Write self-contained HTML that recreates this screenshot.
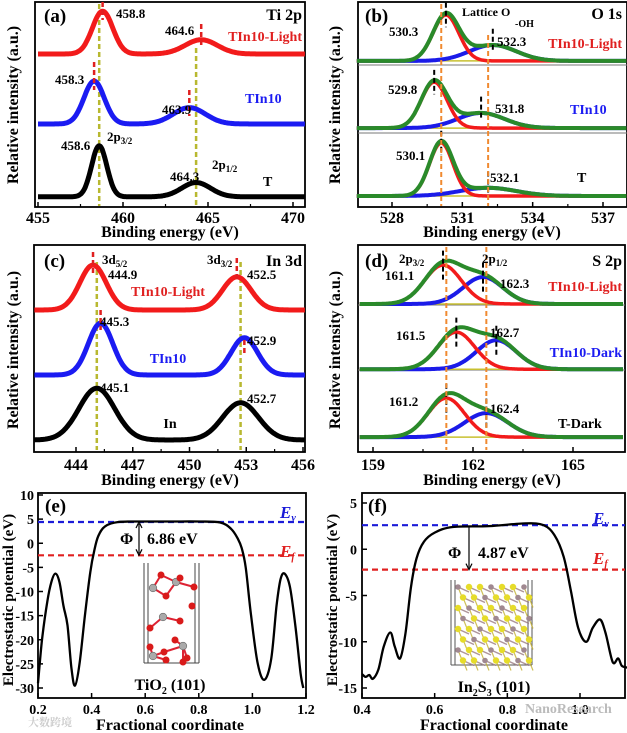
<!DOCTYPE html>
<html><head><meta charset="utf-8"><style>
body{margin:0;background:#fff}
svg{display:block;font-family:"Liberation Serif","Noto Serif CJK SC",serif;font-weight:bold}
</style></head><body>
<svg id="fig" width="627" height="733" viewBox="0 0 627 733"></svg>
<script>
// ---------- data ----------
const aTicks=[455,460,465,470];
const aRedC=[458.8,464.6], aRedH=[21,7], aRedW=[0.6,0.95], aRedBase=75;
const aBlueC=[458.3,463.9], aBlueH=[21,8], aBlueW=[0.6,0.95], aBlueBase=40.7;
const aBlkC=[458.6,464.3], aBlkH=[25,7], aBlkW=[0.45,0.85], aBlkBase=5;
const bTicks=[528,531,534,537];
const bBase=[71.6,38.7,5.4];
const bLatC=[530.3,529.8,530.1], bLatH=[22.5,22.5,26], bLatW=[0.55,0.55,0.5];
const bOhC=[532.3,531.8,532.1], bOhH=[7.8,7.4,4], bOhW=[1.0,1.0,1.2];
const cTicks=[444,447,450,453,456];
const cRedC=[444.9,452.5], cRedH=[21.7,16], cRedW=[0.7,0.75], cRedBase=68.6;
const cBlueC=[445.3,452.9], cBlueH=[25,18], cBlueW=[0.65,0.7], cBlueBase=37.2;
const cBlkC=[445.1,452.7], cBlkH=[25,18], cBlkW=[0.95,0.95], cBlkBase=5.8;
const dTicks=[159,162,165];
const dBase=[71.5,40,7.2];
const dP32C=[161.1,161.5,161.2], dP32H=[18.8,17.9,18.8], dP32W=[0.55,0.55,0.55];
const dP12C=[162.3,162.7,162.4], dP12H=[13,14,11.6], dP12W=[0.6,0.6,0.65];
const eTicksX=[0.2,0.4,0.6,0.8,1.0,1.2], eTicksY=[10,5,0,-5,-10,-15,-20,-25,-30];
const eX=[0.2,0.215,0.235,0.25,0.265,0.28,0.295,0.31,0.325,0.338,0.355,0.375,0.395,0.41,0.425,0.45,0.5,0.6,0.7,0.8,0.88,0.92,0.945,0.96,0.975,0.995,1.02,1.045,1.07,1.09,1.105,1.12,1.14,1.16,1.18,1.19];
const eY=[-29,-20,-12,-8,-6.3,-8,-13,-17,-26,-29.5,-25,-15,-6,-1.5,1.5,3.5,4.4,4.5,4.5,4.5,4.3,3,1,-1,-5,-15,-25,-28.3,-24,-13,-7.5,-6.3,-9,-17,-27,-30];
const eEv=4.4, eEf=-2.5;
const fTicksX=[0.4,0.6,0.8,1.0], fTicksY=[5,0,-5,-10,-15];
const fX=[0.4,0.41,0.42,0.43,0.445,0.46,0.478,0.49,0.505,0.52,0.535,0.55,0.57,0.6,0.65,0.75,0.85,0.9,0.93,0.955,0.975,0.995,1.017,1.035,1.055,1.07,1.09,1.105,1.115,1.13];
const fY=[-13.5,-13.8,-13.6,-14,-13,-10.5,-9,-10.5,-11.8,-9,-4,-1,0.8,1.8,2.4,2.5,2.8,2.6,1.5,-0.8,-4.5,-8.5,-10,-8.5,-7.6,-9,-12.2,-11.8,-12.6,-12.8];
const fEv=2.6, fEf=-2.2;

// ---------- helpers ----------
const NS='http://www.w3.org/2000/svg', svg=document.getElementById('fig');
function mk(tag,at,parent){const e=document.createElementNS(NS,tag);for(const k in at)e.setAttribute(k,at[k]);(parent||svg).appendChild(e);return e;}
function txt(s,x,y,o){o=o||{};const t=mk('text',{x:x,y:y,'font-size':o.size||13,fill:o.color||'#000','text-anchor':o.anchor||'start'});
 if(o.rot)t.setAttribute('transform','rotate(-90 '+x+' '+y+')');t.innerHTML=s;
 
 return t;}
function lin(a,b,c,d){return v=>c+(v-a)*(d-c)/(b-a);}
function gauss(v,C,H,W){let s=0;for(let i=0;i<C.length;i++)s+=H[i]*Math.exp(-(v-C[i])*(v-C[i])/(2*W[i]*W[i]));return s;}
function spec(xs,ys,v0,v1,base,C,H,W,color,w,name){let d='';for(let i=0;i<=300;i++){const v=v0+(v1-v0)*i/300;d+=(i?'L':'M')+xs(v).toFixed(1)+','+ys(base+gauss(v,C,H,W)).toFixed(1);}
 const p=mk('path',{d:d,fill:'none',stroke:color,'stroke-width':w,'stroke-linejoin':'round'});
 
 return p;}
function smooth(xs,ys,X,Y,name){let d='M'+xs(X[0])+','+ys(Y[0]);const P=X.map((x,i)=>[xs(x),ys(Y[i])]);
 for(let i=0;i<P.length-1;i++){const p0=P[Math.max(0,i-1)],p1=P[i],p2=P[i+1],p3=P[Math.min(P.length-1,i+2)];
  d+='C'+(p1[0]+(p2[0]-p0[0])/6).toFixed(1)+','+(p1[1]+(p2[1]-p0[1])/6).toFixed(1)+' '+(p2[0]-(p3[0]-p1[0])/6).toFixed(1)+','+(p2[1]-(p3[1]-p1[1])/6).toFixed(1)+' '+p2[0].toFixed(1)+','+p2[1].toFixed(1);}
 const p=mk('path',{d:d,fill:'none',stroke:'#000','stroke-width':2.3});
 
 }
function frame(x0,y0,x1,y1,name){const r=mk('rect',{x:x0,y:y0,width:x1-x0,height:y1-y0,fill:'none',stroke:'#000','stroke-width':1.8});
 
 }
function xticks(xs,ticks,y1,ly,minor){ticks.forEach(t=>{mk('line',{x1:xs(t),x2:xs(t),y1:y1,y2:y1-5,stroke:'#000','stroke-width':1.5});txt(String(t),xs(t),ly,{size:16,anchor:'middle',name:'x-tick-label'});});
 if(minor)for(let i=0;i<ticks.length-1;i++){const m=(ticks[i]+ticks[i+1])/2;mk('line',{x1:xs(m),x2:xs(m),y1:y1,y2:y1-3,stroke:'#000','stroke-width':1.2});}}
function vdash(x,y0,y1,color,w){mk('line',{x1:x,x2:x,y1:y0,y2:y1,stroke:color,'stroke-width':w||2.5,'stroke-dasharray':'5,3'});}
const OL='#b8b830', OR='#f08a30';
const SUB='<tspan font-size="9" dy="3">';

// ---------- (a) ----------
{const xs=lin(455,470,38,293), ys=lin(0,100,207,3);
 frame(35,2,305,207,'panel-a-frame');
 vdash(xs(458.6),4,206,OL,2.5);vdash(xs(464.3),48,206,OL,2.5);
 spec(xs,ys,455,470.7,aRedBase,aRedC,aRedH,aRedW,'#f21b1b',5,'series-tin10-light');
 spec(xs,ys,455,470.7,aBlueBase,aBlueC,aBlueH,aBlueW,'#1b1bf2',5,'series-tin10');
 spec(xs,ys,455,470.7,aBlkBase,aBlkC,aBlkH,aBlkW,'#000',5,'series-t');
 vdash(xs(458.8),2,20,'#e02020',2.5);vdash(xs(464.6),24,46,'#e02020',2.5);
 vdash(xs(458.3),62,90,'#e02020',2.5);vdash(xs(463.9),90,116,'#e02020',2.5);
 xticks(xs,aTicks,207,223,true);
 txt('(a)',44,22,{size:19,name:'panel-a-label'});txt('Ti 2p',302,20,{size:16,anchor:'end'});
 txt('TIn10-Light',302,41,{size:14,anchor:'end',color:'#e02020',name:'legend-tin10-light'});
 txt('458.8',116,18);txt('464.6',165,35);txt('458.3',55,84);
 txt('TIn10',245,103,{size:14,color:'#1b1bf2',name:'legend-tin10'});txt('463.9',162,114);
 txt('458.6',61,150);txt('2p'+SUB+'3/2</tspan>',107,141);
 txt('464.3',170,181);txt('2p'+SUB+'1/2</tspan>',212,169);txt('T',263,186,{size:14});
 txt('Binding energy (eV)',170,237,{size:16,anchor:'middle',name:'x-axis-title'});
 txt('Relative intensity (a.u.)',18,105,{size:16,anchor:'middle',rot:true,name:'y-axis-title'});}

// ---------- (b) ----------
{const xs=lin(528,537,392,603), ys=lin(0,100,207,3);
 frame(358,2,627,207,'panel-b-frame');
 [65,133].forEach(y=>mk('line',{x1:358,x2:627,y1:y,y2:y,stroke:'#777','stroke-width':1}));
 for(let i=0;i<3;i++){
  const base=bBase[i];
  spec(xs,ys,526.5,538,base,[],[],[],'#c8c030',1.5,'baseline');
  spec(xs,ys,526.5,538,base,[bOhC[i]],[bOhH[i]],[bOhW[i]],'#1b1be8',4,'fit-oh');
  spec(xs,ys,526.5,538,base,[bLatC[i]],[bLatH[i]],[bLatW[i]],'#f21b1b',3.5,'fit-lattice-o');
  spec(xs,ys,526.5,538,base,[bLatC[i],bOhC[i]],[bLatH[i],bOhH[i]],[bLatW[i],bOhW[i]],'#2a8a2a',4,'fit-envelope');
  vdash(xs(bLatC[i]),ys(base+bLatH[i]+6),ys(base+bLatH[i]-6),'#000',2);
  vdash(xs(bOhC[i]),ys(base+bOhH[i]+8),ys(base+bOhH[i]-3),'#000',2);}
 vdash(xs(530.1),4,206,OR,2);vdash(xs(532.1),35,206,OR,2);
 xticks(xs,bTicks,207,223,true);
 txt('(b)',365,22,{size:19,name:'panel-b-label'});txt('Lattice O',462,16,{size:12});txt('-OH',515,27,{size:10});
 txt('O 1s',622,19,{size:16,anchor:'end'});
 txt('530.3',389,36);txt('532.3',497,46);
 txt('TIn10-Light',622,48,{size:14,anchor:'end',color:'#e02020',name:'legend-tin10-light'});
 txt('529.8',388,94);txt('531.8',495,113);
 txt('TIn10',570,114,{size:14,color:'#1b1bf2',name:'legend-tin10'});
 txt('530.1',396,160);txt('532.1',490,182);txt('T',577,182,{size:14});
 txt('Binding energy (eV)',492,237,{size:16,anchor:'middle',name:'x-axis-title'});
 txt('Relative intensity (a.u.)',340,105,{size:16,anchor:'middle',rot:true,name:'y-axis-title'});}

// ---------- (c) ----------
{const xs=lin(444,456,76,303), ys=lin(0,100,452,245);
 frame(34,245,305,452,'panel-c-frame');
 vdash(xs(445.1),262,450,OL,2.5);vdash(xs(452.7),262,450,OL,2.5);
 spec(xs,ys,441.8,456.1,cRedBase,cRedC,cRedH,cRedW,'#f21b1b',5,'series-tin10-light');
 spec(xs,ys,441.8,456.1,cBlueBase,cBlueC,cBlueH,cBlueW,'#1b1bf2',5,'series-tin10');
 spec(xs,ys,441.8,456.1,cBlkBase,cBlkC,cBlkH,cBlkW,'#000',5,'series-in');
 vdash(xs(444.9),252,276,'#e02020',2.5);vdash(xs(452.5),258,282,'#e02020',2.5);
 vdash(xs(445.3),310,330,'#e02020',2.5);vdash(xs(452.9),340,356,'#e02020',2.5);
 xticks(xs,cTicks,452,470,true);
 txt('(c)',44,267,{size:19,name:'panel-c-label'});
 txt('3d'+SUB+'5/2</tspan>',102,264);txt('444.9',108,279);
 txt('3d'+SUB+'3/2</tspan>',207,264);txt('452.5',247,279);
 txt('In 3d',302,266,{size:16,anchor:'end'});
 txt('TIn10-Light',168,296,{size:14,anchor:'middle',color:'#e02020',name:'legend-tin10-light'});
 txt('445.3',100,326);txt('452.9',247,345);
 txt('TIn10',168,363,{size:14,anchor:'middle',color:'#1b1bf2',name:'legend-tin10'});
 txt('445.1',100,392);txt('452.7',247,403);txt('In',170,428,{size:14,anchor:'middle'});
 txt('Binding energy (eV)',170,485,{size:16,anchor:'middle',name:'x-axis-title'});
 txt('Relative intensity (a.u.)',18,350,{size:16,anchor:'middle',rot:true,name:'y-axis-title'});}

// ---------- (d) ----------
{const xs=lin(159,165,373,573), ys=lin(0,100,452,245);
 frame(358,245,625,452,'panel-d-frame');
 [305,370].forEach(y=>mk('line',{x1:358,x2:625,y1:y,y2:y,stroke:'#777','stroke-width':1}));
 for(let i=0;i<3;i++){
  const base=dBase[i];
  spec(xs,ys,158.6,166.5,base,[],[],[],'#c8c030',1.5,'baseline');
  spec(xs,ys,158.6,166.5,base,[dP12C[i]],[dP12H[i]],[dP12W[i]],'#1b1be8',4,'fit-2p1-2');
  spec(xs,ys,158.6,166.5,base,[dP32C[i]],[dP32H[i]],[dP32W[i]],'#f21b1b',3.5,'fit-2p3-2');
  spec(xs,ys,158.6,166.5,base,[dP32C[i],dP12C[i]],[dP32H[i],dP12H[i]],[dP32W[i],dP12W[i]],'#2a8a2a',4,'fit-envelope');
  vdash(xs(dP32C[i]),ys(base+dP32H[i]+7),ys(base+dP32H[i]-7),'#000',2);
  vdash(xs(dP12C[i]),ys(base+dP12H[i]+7),ys(base+dP12H[i]-7),'#000',2);}
 vdash(xs(161.2),247,450,OR,2);vdash(xs(162.4),247,450,OR,2);
 xticks(xs,dTicks,452,470,true);
 txt('(d)',365,267,{size:19,name:'panel-d-label'});
 txt('2p'+SUB+'3/2</tspan>',399,263);txt('2p'+SUB+'1/2</tspan>',482,263);
 txt('S 2p',622,266,{size:16,anchor:'end'});
 txt('161.1',385,280);txt('162.3',500,288);
 txt('TIn10-Light',622,291,{size:14,anchor:'end',color:'#e02020',name:'legend-tin10-light'});
 txt('161.5',396,340);txt('162.7',490,337);
 txt('TIn10-Dark',622,357,{size:14,anchor:'end',color:'#1b1bf2',name:'legend-tin10-dark'});
 txt('161.2',389,406);txt('162.4',490,413);txt('T-Dark',558,428,{size:14});
 txt('Binding energy (eV)',492,485,{size:16,anchor:'middle',name:'x-axis-title'});
 txt('Relative intensity (a.u.)',340,350,{size:16,anchor:'middle',rot:true,name:'y-axis-title'});}

// ---------- (e) ----------
{const xs=lin(0.2,1.2,38,306), ys=lin(10,-30,495,688);
 frame(38,493,306,698,'panel-e-frame');
 eTicksY.forEach(t=>{mk('line',{x1:38,x2:43,y1:ys(t),y2:ys(t),stroke:'#000','stroke-width':1.5});txt(String(t),34,ys(t)+5,{size:14,anchor:'end',name:'y-tick-label'});});
 eTicksX.forEach(t=>{mk('line',{x1:xs(t),x2:xs(t),y1:698,y2:693,stroke:'#000','stroke-width':1.5});txt(t.toFixed(1),xs(t),714,{size:14,anchor:'middle',name:'x-tick-label'});});
 const ev=mk('line',{x1:38,x2:306,y1:ys(eEv),y2:ys(eEv),stroke:'#1b1bd8','stroke-width':2.2,'stroke-dasharray':'6,4'});
 
 const ef=mk('line',{x1:38,x2:306,y1:ys(eEf),y2:ys(eEf),stroke:'#e02020','stroke-width':2.2,'stroke-dasharray':'6,4'});
 
 smooth(xs,ys,eX,eY,'potential-curve-tio2');
 mk('line',{x1:139,x2:139,y1:ys(eEv)+2,y2:ys(eEf)-2,stroke:'#000','stroke-width':1.2});
 mk('path',{d:`M136,${ys(eEv)+6}L139,${ys(eEv)}L142,${ys(eEv)+6}M136,${ys(eEf)-6}L139,${ys(eEf)}L142,${ys(eEf)-6}`,stroke:'#000',fill:'none','stroke-width':1.2});
 txt('Φ',120,544,{size:16});txt('6.86 eV',147,544,{size:16,name:'work-function-value'});
 txt('<tspan font-style="italic">E</tspan><tspan font-size="10" dy="3" font-style="italic">v</tspan>',280,518,{size:17,color:'#1b1bd8',name:'ev-label'});
 txt('<tspan font-style="italic">E</tspan><tspan font-size="10" dy="3" font-style="italic">f</tspan>',280,557,{size:17,color:'#e02020',name:'ef-label'});
 txt('(e)',45,512,{size:19,name:'panel-e-label'});
 const g=mk('g',{});
 [[144,563,144,663],[148,563,148,663],[195,563,195,663],[199,563,199,663],[144,663,199,663]].forEach(l=>mk('line',{x1:l[0],y1:l[1],x2:l[2],y2:l[3],stroke:'#444','stroke-width':1},g));
 const ti=[[153,588],[176,582],[163,617],[183,646],[153,656]], ox=[[161,575],[180,578],[194,587],[166,596],[192,606],[150,628],[180,621],[175,640],[150,647],[164,652],[187,658],[166,660],[183,662]];
 ti.forEach((p,i)=>ox.forEach(q=>{if(Math.hypot(p[0]-q[0],p[1]-q[1])<20)mk('line',{x1:p[0],y1:p[1],x2:q[0],y2:q[1],stroke:'#d23','stroke-width':2},g);}));
 ti.forEach(p=>mk('circle',{cx:p[0],cy:p[1],r:3.8,fill:'#aaa',stroke:'#666','stroke-width':0.6},g));
 ox.forEach(p=>mk('circle',{cx:p[0],cy:p[1],r:3.5,fill:'#d91a1a'},g));
 txt('TiO<tspan font-size="10" dy="4">2</tspan><tspan dy="-4"> (101)</tspan>',170,690,{size:16,anchor:'middle',name:'tio2-caption'});
 txt('Fractional coordinate',170,730,{size:16,anchor:'middle',name:'x-axis-title'});
 txt('Electrostatic potential (eV)',13,600,{size:15,anchor:'middle',rot:true,name:'y-axis-title'});
 txt('大数跨境',28,726,{size:11,color:'#ccc',name:'watermark'});}

// ---------- (f) ----------
{const xs=lin(0.4,1.0,362,580), ys=lin(5,-15,503,688);
 frame(362,493,625,698,'panel-f-frame');
 fTicksY.forEach(t=>{mk('line',{x1:362,x2:367,y1:ys(t),y2:ys(t),stroke:'#000','stroke-width':1.5});txt(String(t),357,ys(t)+5,{size:14,anchor:'end',name:'y-tick-label'});});
 fTicksX.forEach(t=>{mk('line',{x1:xs(t),x2:xs(t),y1:698,y2:693,stroke:'#000','stroke-width':1.5});txt(t.toFixed(1),xs(t),714,{size:14,anchor:'middle',name:'x-tick-label'});});
 const ev=mk('line',{x1:362,x2:625,y1:ys(fEv),y2:ys(fEv),stroke:'#1b1bd8','stroke-width':2.2,'stroke-dasharray':'6,4'});
 
 const ef=mk('line',{x1:362,x2:625,y1:ys(fEf),y2:ys(fEf),stroke:'#e02020','stroke-width':2.2,'stroke-dasharray':'6,4'});
 
 smooth(xs,ys,fX,fY,'potential-curve-in2s3');
 mk('line',{x1:469,x2:469,y1:ys(fEv)+2,y2:ys(fEf)-2,stroke:'#000','stroke-width':1.2});
 mk('path',{d:`M466,${ys(fEf)-6}L469,${ys(fEf)}L472,${ys(fEf)-6}`,stroke:'#000',fill:'none','stroke-width':1.2});
 txt('Φ',448,558,{size:16});txt('4.87 eV',478,558,{size:16,name:'work-function-value'});
 txt('<tspan font-style="italic">E</tspan><tspan font-size="10" dy="3" font-style="italic">v</tspan>',593,524,{size:17,color:'#1b1bd8',name:'ev-label'});
 txt('<tspan font-style="italic">E</tspan><tspan font-size="10" dy="3" font-style="italic">f</tspan>',593,564,{size:17,color:'#e02020',name:'ef-label'});
 txt('(f)',368,512,{size:19,name:'panel-f-label'});
 const g=mk('g',{});
 [[451,580,451,665],[455,580,455,665],[528,580,528,665],[532,580,532,665],[451,665,532,665]].forEach(l=>mk('line',{x1:l[0],y1:l[1],x2:l[2],y2:l[3],stroke:'#555','stroke-width':1},g));
 const pts=[];for(let r=0;r<8;r++)for(let c=0;c<7;c++)pts.push([458+c*11+(r%2)*5,587+r*10.5]);
 pts.forEach((p,i)=>{if(i%7<6)mk('line',{x1:p[0],y1:p[1],x2:p[0]+11,y2:p[1]+5,stroke:'#9a7b80','stroke-width':1.5,opacity:0.8},g);mk('line',{x1:p[0],y1:p[1],x2:p[0]+4,y2:p[1]+10,stroke:'#c4b030','stroke-width':1.2,opacity:0.8},g);});
 pts.forEach((p,i)=>mk('circle',{cx:p[0],cy:p[1],r:i%3==0?2.8:3.2,fill:i%3==0?'#a08890':'#e6dc2a'},g));
 txt('In<tspan font-size="10" dy="4">2</tspan><tspan dy="-4">S</tspan><tspan font-size="10" dy="4">3</tspan><tspan dy="-4"> (101)</tspan>',494,692,{size:16,anchor:'middle',name:'in2s3-caption'});
 txt('Fractional coordinate',494,730,{size:16,anchor:'middle',name:'x-axis-title'});
 txt('Electrostatic potential (eV)',337,600,{size:15,anchor:'middle',rot:true,name:'y-axis-title'});
 txt('NanoResearch',525,713,{size:14,color:'#bbb',name:'watermark'});}
</script>
</body></html>
